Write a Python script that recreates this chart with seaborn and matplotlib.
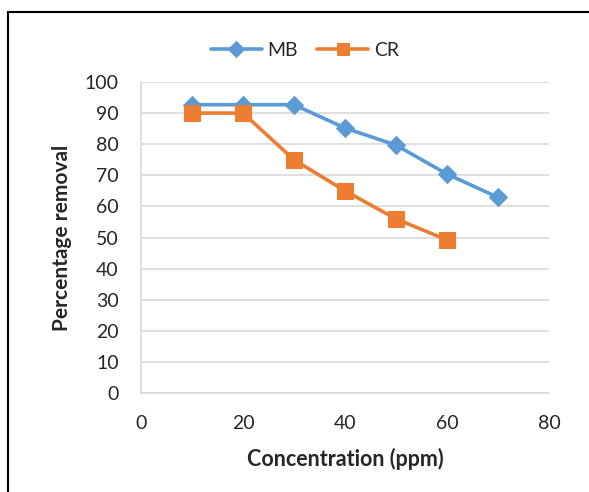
import matplotlib
matplotlib.use("Agg")
import matplotlib.pyplot as plt
import seaborn as sns
import pandas as pd
from matplotlib.patches import Rectangle

conc_mb = [10, 20, 30, 40, 50, 60, 70]
mb = [92.7, 92.7, 92.7, 85.2, 79.7, 70.4, 62.9]
conc_cr = [10, 20, 30, 40, 50, 60]
cr = [90.0, 90.0, 75.0, 65.0, 56.0, 49.2]
x_ticks = [0, 20, 40, 60, 80]
y_ticks = list(range(0, 101, 10))

sns.set_theme(style="white")
plt.rcParams['font.family'] = ['Lato', 'DejaVu Sans']

df = pd.concat([
    pd.DataFrame({"Concentration": conc_mb, "Removal": mb, "Dye": "MB"}),
    pd.DataFrame({"Concentration": conc_cr, "Removal": cr, "Dye": "CR"}),
])

fig = plt.figure(figsize=(5.89, 4.92), dpi=100)
ax = fig.add_axes([141/589, 1-393/492, (549-141)/589, (393-82)/492])

palette = {"MB": "#5B9BD5", "CR": "#ED7D31"}
markers = {"MB": "D", "CR": "s"}
sizes = {"MB": 9, "CR": 11}
for dye in ["MB", "CR"]:
    sub = df[df["Dye"] == dye]
    sns.lineplot(data=sub, x="Concentration", y="Removal", ax=ax, color=palette[dye],
                 marker=markers[dye], markersize=sizes[dye], linewidth=2.6,
                 markeredgecolor=palette[dye], label=dye, zorder=3)

ax.set_xlim(0, 80)
ax.set_ylim(0, 100)
ax.set_xticks(x_ticks)
ax.set_yticks(y_ticks)
ax.tick_params(axis='both', labelsize=14, length=0)
ax.tick_params(axis='x', pad=16)
ax.tick_params(axis='y', pad=16)
ax.yaxis.grid(True, color="#d9d9d9", linewidth=1.2)
ax.xaxis.grid(False)
for s in ["top", "right"]:
    ax.spines[s].set_visible(False)
for s in ["left", "bottom"]:
    ax.spines[s].set_color("#d9d9d9")
    ax.spines[s].set_linewidth(1.2)

ax.set_xlabel("Concentration (ppm)", fontsize=15.5, fontweight="bold", labelpad=11)
ax.set_ylabel("Percentage removal", fontsize=15, fontweight="bold", labelpad=9)

leg = ax.legend(loc="center", bbox_to_anchor=(305/589, 1-50/492), bbox_transform=fig.transFigure,
                ncol=2, frameon=False, fontsize=14, handlelength=2.6, columnspacing=1.0,
                handletextpad=0.3, markerscale=0.85)

fig.patches.append(Rectangle((8/589, -0.1), 1.2, 1 - 12/492 + 0.1, transform=fig.transFigure,
                             fill=False, edgecolor="black", linewidth=1.5))

fig.savefig("out.png", dpi=100)
